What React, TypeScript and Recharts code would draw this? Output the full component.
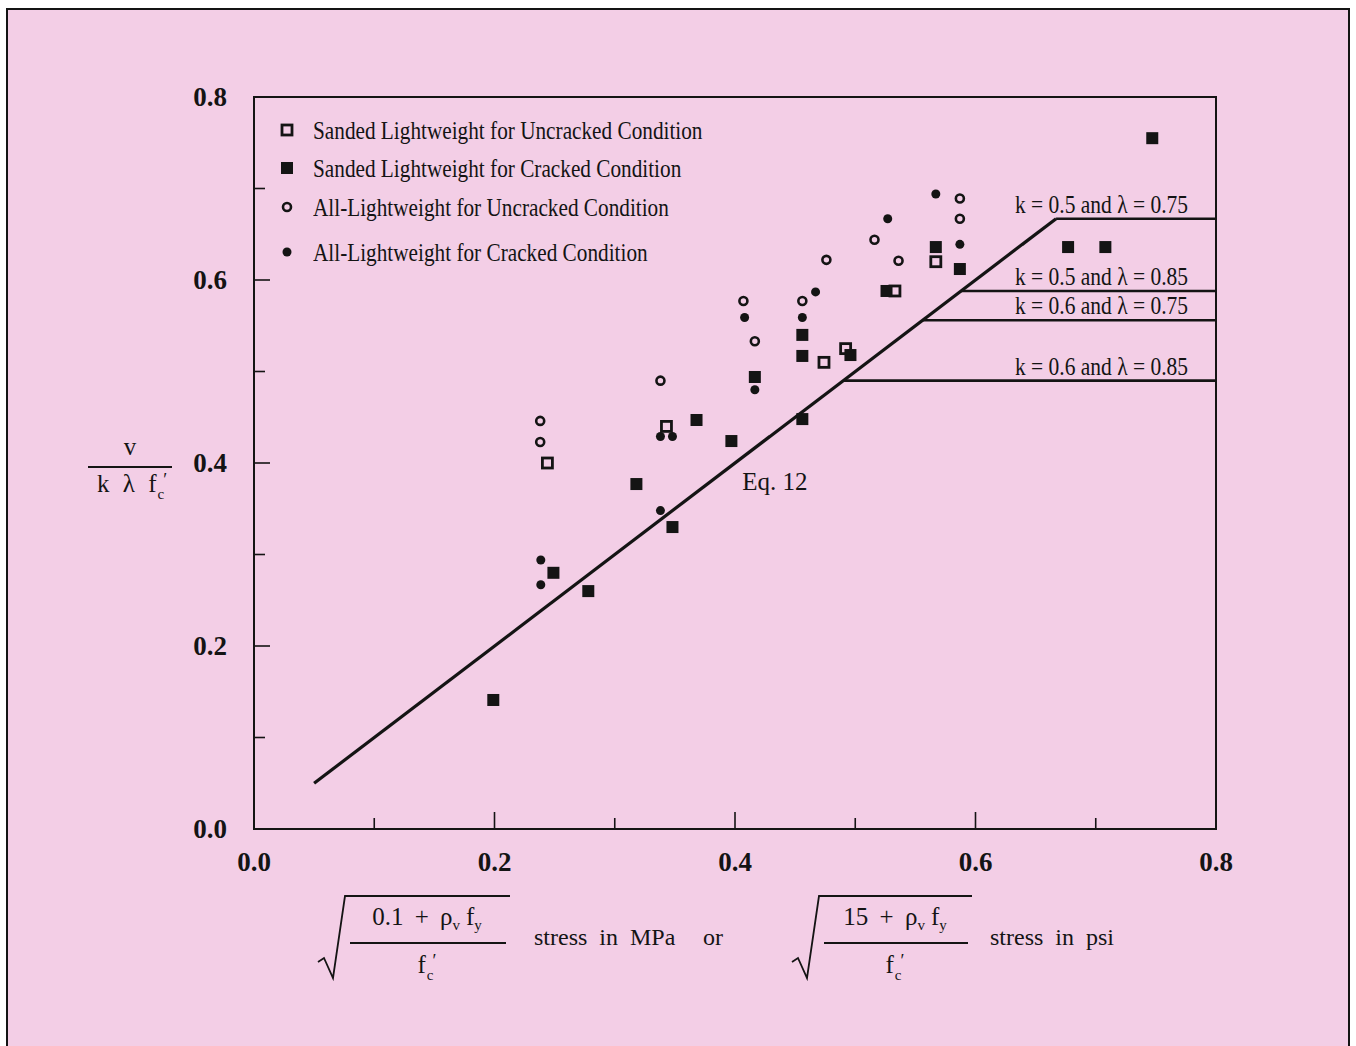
import React from 'react'
import {
  ScatterChart, Scatter, XAxis, YAxis, ReferenceLine, ReferenceArea,
  ReferenceDot, Legend,
} from 'recharts'

const INK = '#141414'
const PAPER = '#F3CEE6'
const SERIF = '"Liberation Serif", "Times New Roman", serif'

// test points, x = sqrt((0.1 + rho_v fy) / fc'), y = v / (k lambda fc')
const sandedUncracked = [
  { x: 0.244, y: 0.4 }, { x: 0.343, y: 0.44 }, { x: 0.474, y: 0.51 },
  { x: 0.492, y: 0.525 }, { x: 0.533, y: 0.588 }, { x: 0.567, y: 0.62 },
]

const sandedCracked = [
  { x: 0.199, y: 0.141 }, { x: 0.249, y: 0.28 }, { x: 0.278, y: 0.26 },
  { x: 0.318, y: 0.377 }, { x: 0.348, y: 0.33 }, { x: 0.368, y: 0.447 },
  { x: 0.397, y: 0.424 }, { x: 0.4165, y: 0.494 }, { x: 0.456, y: 0.54 },
  { x: 0.456, y: 0.517 }, { x: 0.456, y: 0.448 }, { x: 0.496, y: 0.518 },
  { x: 0.526, y: 0.588 }, { x: 0.567, y: 0.636 }, { x: 0.587, y: 0.612 },
  { x: 0.677, y: 0.636 }, { x: 0.708, y: 0.636 }, { x: 0.747, y: 0.755 },
]

const allLightUncracked = [
  { x: 0.238, y: 0.446 }, { x: 0.238, y: 0.423 }, { x: 0.338, y: 0.49 },
  { x: 0.407, y: 0.577 }, { x: 0.4165, y: 0.533 }, { x: 0.456, y: 0.577 },
  { x: 0.476, y: 0.622 }, { x: 0.516, y: 0.644 }, { x: 0.536, y: 0.621 },
  { x: 0.587, y: 0.689 }, { x: 0.587, y: 0.667 },
]

const allLightCracked = [
  { x: 0.2385, y: 0.294 }, { x: 0.2385, y: 0.267 }, { x: 0.338, y: 0.348 },
  { x: 0.338, y: 0.429 }, { x: 0.348, y: 0.429 }, { x: 0.408, y: 0.559 },
  { x: 0.4165, y: 0.48 }, { x: 0.456, y: 0.559 }, { x: 0.467, y: 0.587 },
  { x: 0.527, y: 0.667 }, { x: 0.567, y: 0.694 }, { x: 0.587, y: 0.639 },
]

// Eq. 12: y = x from its start until it meets a plateau
const eqStart = 0.05
const plateauLabels = [
  'k = 0.5 and λ = 0.75',
  'k = 0.5 and λ = 0.85',
  'k = 0.6 and λ = 0.75',
  'k = 0.6 and λ = 0.85',
]
const plateauValues = [0.667, 0.588, 0.556, 0.49]

const axisTicks = [0, 0.1, 0.2, 0.3, 0.4, 0.5, 0.6, 0.7, 0.8]

const OpenSquare = ({ cx, cy }: any) => (
  <rect x={cx - 5} y={cy - 5} width={10} height={10} fill="none" stroke={INK} strokeWidth={2.8} />
)
const FilledSquare = ({ cx, cy }: any) => (
  <rect x={cx - 6} y={cy - 6} width={12} height={12} fill={INK} />
)
const OpenCircle = ({ cx, cy }: any) => (
  <circle cx={cx} cy={cy} r={4} fill="none" stroke={INK} strokeWidth={2.6} />
)
const FilledCircle = ({ cx, cy }: any) => (
  <circle cx={cx} cy={cy} r={4.5} fill={INK} />
)

const SERIES = [
  { name: 'Sanded Lightweight for Uncracked Condition', data: sandedUncracked, Marker: OpenSquare },
  { name: 'Sanded Lightweight for Cracked Condition', data: sandedCracked, Marker: FilledSquare },
  { name: 'All-Lightweight for Uncracked Condition', data: allLightUncracked, Marker: OpenCircle },
  { name: 'All-Lightweight for Cracked Condition', data: allLightCracked, Marker: FilledCircle },
]

// extra space above each legend row, the last one sits lower
const legendRowGaps = [0, 0, 1, 7]

const isMajor = (v: number) => Math.round(v * 10) % 2 === 0
const isEdge = (v: number) => v < 0.01 || v > 0.79

function XTick({ x, y, payload }: any) {
  const v = payload.value
  return (
    <g>
      {!isEdge(v) && (
        <line x1={x} x2={x} y1={y} y2={y - (isMajor(v) ? 17 : 11)} stroke={INK} strokeWidth={1.6} />
      )}
      {isMajor(v) && (
        <text x={x} y={y + 42} textAnchor="middle" fontFamily={SERIF} fontWeight="bold" fontSize={27} fill={INK}>
          {v.toFixed(1)}
        </text>
      )}
    </g>
  )
}

function YTick({ x, y, payload }: any) {
  const v = payload.value
  return (
    <g>
      {!isEdge(v) && (
        <line x1={x} x2={x + (isMajor(v) ? 16 : 11)} y1={y} y2={y} stroke={INK} strokeWidth={1.6} />
      )}
      {isMajor(v) && (
        <text x={x - 27} y={y + 9} textAnchor="end" fontFamily={SERIF} fontWeight="bold" fontSize={27} fill={INK}>
          {v.toFixed(1)}
        </text>
      )}
    </g>
  )
}

// f_c with a prime, used under both fractions and in the y title
function FcPrime() {
  return (
    <>
      f<tspan dy={7} dx={1} fontSize={15}>c</tspan>
      <tspan dy={-13} dx={-1} fontSize={18}>′</tspan>
    </>
  )
}

// sqrt((a + rho_v f_y) / f_c') drawn with a radical sign
function RootFraction({ x, top, first, width }: { x: number; top: number; first: string; width: number }) {
  const mid = x + 28 + width / 2
  return (
    <g>
      <path
        d={`M ${x} ${top + 66} L ${x + 6} ${top + 62} L ${x + 15} ${top + 82} L ${x + 27} ${top} L ${x + 30 + width} ${top}`}
        fill="none" stroke={INK} strokeWidth={1.8}
      />
      <line x1={x + 32} x2={x + 26 + width} y1={top + 47} y2={top + 47} stroke={INK} strokeWidth={2} />
      <text x={mid} y={top + 29} textAnchor="middle" fontFamily={SERIF} fontSize={25} fill={INK} wordSpacing={5}>
        {first} + ρ<tspan dy={5} fontSize={15}>v</tspan>
        <tspan dy={-5} dx={6}>f</tspan><tspan dy={5} fontSize={15}>y</tspan>
      </text>
      <text x={mid} y={top + 77} textAnchor="middle" fontFamily={SERIF} fontSize={25} fill={INK}>
        <FcPrime />
      </text>
    </g>
  )
}

function XTitle(props: any) {
  const vb = props.viewBox ?? { x: 246, y: 819 }
  const top = vb.y + 67
  return (
    <g fontFamily={SERIF} fill={INK}>
      <RootFraction x={vb.x + 64} top={top} first="0.1" width={162} />
      <text x={vb.x + 280} y={vb.y + 116} fontSize={24} wordSpacing={6}>stress in MPa</text>
      <text x={vb.x + 449} y={vb.y + 116} fontSize={24}>or</text>
      <RootFraction x={vb.x + 538} top={top} first="15" width={150} />
      <text x={vb.x + 736} y={vb.y + 116} fontSize={24} wordSpacing={6}>stress in psi</text>
    </g>
  )
}

function YTitle(props: any) {
  const vb = props.viewBox ?? { x: 186, y: 87, width: 60 }
  const ox = vb.x + vb.width
  const oy = vb.y
  return (
    <g fontFamily={SERIF} fill={INK}>
      <text x={ox - 124} y={oy + 358} textAnchor="middle" fontSize={25}>v</text>
      <line x1={ox - 166} x2={ox - 82} y1={oy + 370} y2={oy + 370} stroke={INK} strokeWidth={2} />
      <text x={ox - 157} y={oy + 395} fontSize={25} wordSpacing={7}>
        k λ <FcPrime />
      </text>
    </g>
  )
}

const plateauLabel = (text: string) => (props: any) => {
  const vb = props.viewBox
  if (!vb) return null
  return (
    <text
      x={vb.x + vb.width - 28} y={vb.y - 6} textAnchor="end"
      fontFamily={SERIF} fontSize={25} fill={INK}
      textLength={173} lengthAdjust="spacingAndGlyphs"
    >
      {text}
    </text>
  )
}

const eqLabel = (props: any) => {
  const vb = props.viewBox
  if (!vb) return null
  return (
    <text x={vb.x} y={vb.y} fontFamily={SERIF} fontSize={25} fill={INK}>Eq. 12</text>
  )
}

function LegendBox() {
  return (
    <div style={{ fontFamily: SERIF, color: INK }}>
      {SERIES.map(({ name, Marker }, i) => (
        <div
          key={name}
          style={{ display: 'flex', alignItems: 'center', height: 38, marginTop: legendRowGaps[i] }}
        >
          <svg width={22} height={22} style={{ flex: 'none' }}>
            <Marker cx={11} cy={11} />
          </svg>
          <span
            style={{
              marginLeft: 15, fontSize: 25, lineHeight: 1, whiteSpace: 'nowrap',
              transform: 'scaleX(0.85)', transformOrigin: 'left center',
            }}
          >
            {name}
          </span>
        </div>
      ))}
    </div>
  )
}

export default function App() {
  return (
    <div
      style={{
        position: 'fixed', left: 6, top: 8, width: 1344, height: 1040,
        boxSizing: 'border-box', background: PAPER,
        borderLeft: `2px solid ${INK}`, borderTop: `2px solid ${INK}`, borderRight: `2px solid ${INK}`,
        fontFamily: SERIF,
      }}
    >
      <ScatterChart width={1340} height={1036} margin={{ top: 87, right: 132, bottom: 177, left: 186 }}>
        <XAxis
          type="number" dataKey="x" domain={[0, 0.8]} ticks={axisTicks}
          height={40} tickSize={0} tickMargin={0} tickLine={false}
          axisLine={{ stroke: INK, strokeWidth: 2 }}
          tick={(p: any) => <XTick {...p} />}
          label={(p: any) => <XTitle {...p} />}
        />
        <YAxis
          type="number" dataKey="y" domain={[0, 0.8]} ticks={axisTicks}
          width={60} tickSize={0} tickMargin={0} tickLine={false}
          axisLine={{ stroke: INK, strokeWidth: 2 }}
          tick={(p: any) => <YTick {...p} />}
          label={(p: any) => <YTitle {...p} />}
        />
        <ReferenceArea x1={0} x2={0.8} y1={0} y2={0.8} fill="none" stroke={INK} strokeWidth={2} />
        <ReferenceLine
          segment={[{ x: eqStart, y: eqStart }, { x: plateauValues[0], y: plateauValues[0] }]}
          stroke={INK} strokeWidth={3.2}
        />
        {plateauValues.map((p, i) => (
          <ReferenceLine
            key={plateauLabels[i]}
            segment={[{ x: p, y: p }, { x: 0.8, y: p }]}
            stroke={INK} strokeWidth={2.6}
            label={plateauLabel(plateauLabels[i])}
          />
        ))}
        <ReferenceDot x={0.406} y={0.37} r={0} fill="none" stroke="none" label={eqLabel} />
        {SERIES.map(({ name, data, Marker }) => (
          <Scatter
            key={name} name={name} data={data} isAnimationActive={false}
            shape={(p: any) => <Marker cx={p.cx} cy={p.cy} />}
          />
        ))}
        <Legend
          layout="vertical" align="center" verticalAlign="middle"
          wrapperStyle={{ left: 268, top: 101, width: 520 }}
          content={() => <LegendBox />}
        />
      </ScatterChart>
    </div>
  )
}
